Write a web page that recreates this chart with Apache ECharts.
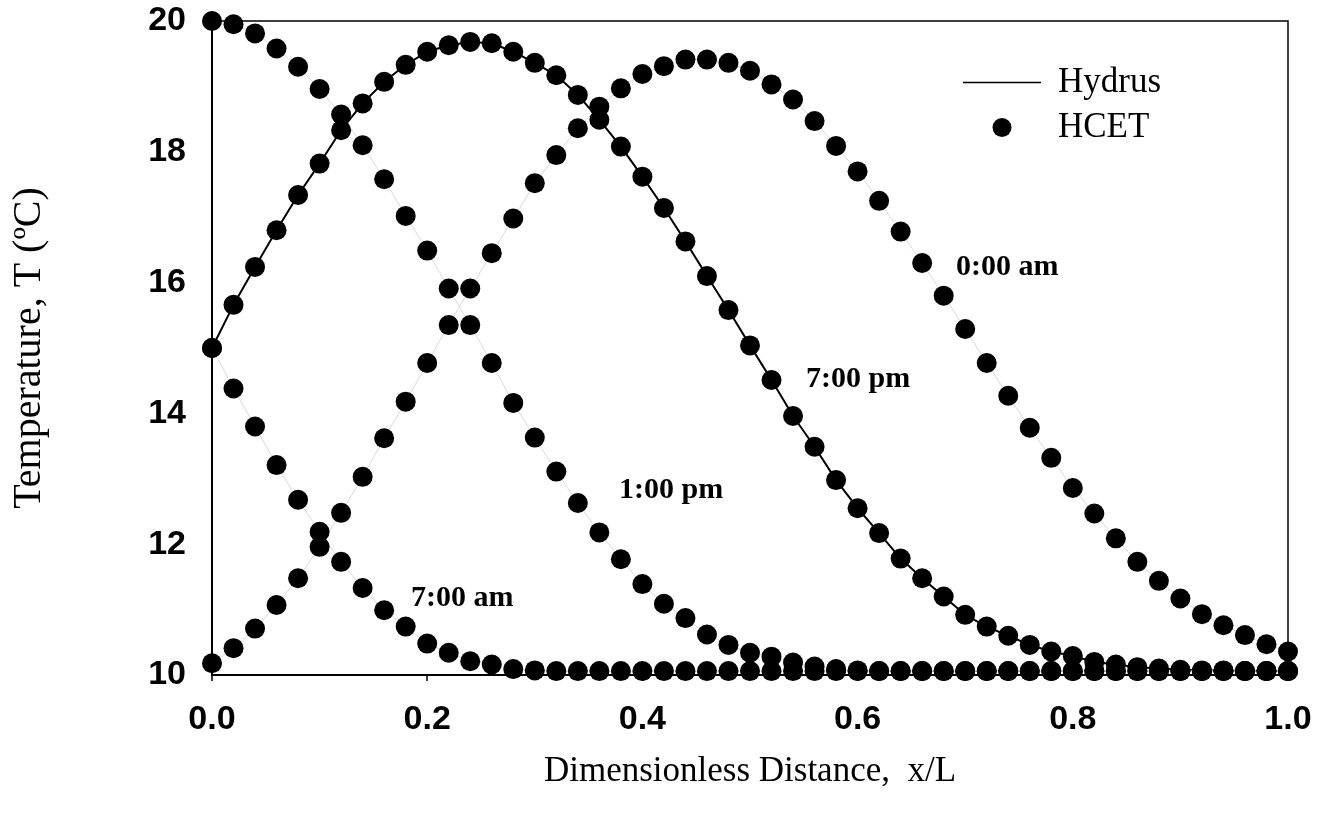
<!DOCTYPE html>
<html>
<head>
<meta charset="utf-8">
<script src="https://cdn.jsdelivr.net/npm/echarts@6/dist/echarts.min.js"></script>
<style>
html,body{margin:0;padding:0;background:#fff;}
#chart{width:1322px;height:820px;}
</style>
</head>
<body>
<div id="chart"></div>
<script>
// Dimensionless distance x/L (sample grid)
const xs = [0.00,0.02,0.04,0.06,0.08,0.10,0.12,0.14,0.16,0.18,0.20,0.22,0.24,0.26,0.28,0.30,0.32,0.34,0.36,0.38,0.40,0.42,0.44,0.46,0.48,0.50,0.52,0.54,0.56,0.58,0.60,0.62,0.64,0.66,0.68,0.70,0.72,0.74,0.76,0.78,0.80,0.82,0.84,0.86,0.88,0.90,0.92,0.94,0.96,0.98,1.00];

// Temperature profiles (°C)
const t0am = [10.18,10.41,10.71,11.07,11.48,11.96,12.48,13.03,13.62,14.18,14.77,15.35,15.91,16.45,16.98,17.52,17.95,18.36,18.69,18.97,19.19,19.31,19.41,19.41,19.36,19.24,19.03,18.80,18.47,18.09,17.70,17.25,16.78,16.30,15.80,15.29,14.77,14.27,13.78,13.32,12.86,12.47,12.09,11.73,11.44,11.17,10.93,10.76,10.61,10.47,10.36];
const t7am = [15.00,14.38,13.80,13.21,12.68,12.19,11.73,11.33,10.99,10.74,10.48,10.34,10.21,10.16,10.09,10.07,10.06,10.06,10.06,10.06,10.06,10.06,10.06,10.06,10.06,10.06,10.06,10.06,10.06,10.06,10.06,10.06,10.06,10.06,10.06,10.06,10.06,10.06,10.06,10.06,10.06,10.06,10.06,10.06,10.06,10.06,10.06,10.06,10.06,10.06,10.06];
const t1pm = [20.00,19.95,19.81,19.58,19.30,18.96,18.57,18.10,17.58,17.02,16.49,15.91,15.35,14.77,14.16,13.63,13.11,12.63,12.18,11.77,11.39,11.09,10.87,10.62,10.46,10.34,10.28,10.19,10.13,10.09,10.07,10.06,10.06,10.06,10.06,10.06,10.06,10.06,10.06,10.06,10.06,10.06,10.06,10.06,10.06,10.06,10.06,10.06,10.06,10.06,10.06];
const t7pm = [15.00,15.66,16.24,16.80,17.34,17.82,18.33,18.74,19.07,19.33,19.53,19.63,19.68,19.66,19.53,19.36,19.17,18.87,18.49,18.08,17.62,17.14,16.63,16.10,15.58,15.04,14.51,13.96,13.49,12.98,12.55,12.17,11.78,11.48,11.20,10.92,10.74,10.60,10.46,10.36,10.29,10.20,10.16,10.12,10.10,10.08,10.07,10.07,10.06,10.06,10.06];

const xTicks = [0.0,0.2,0.4,0.6,0.8,1.0];
const yTicks = [10,12,14,16,18,20];

const curveLabels = ['0:00 am','7:00 pm','1:00 pm','7:00 am'];

function pairs(ys){ return xs.map((x,i)=>[x, ys[i]]); }

const chart = echarts.init(document.getElementById('chart'), null, {renderer:'canvas'});

const serif = 'Liberation Serif, Times New Roman, serif';
const sans = 'Liberation Sans, Arial, sans-serif';

const faint = {color:'#dadada', width:1};
const lineSeries = [
  {ys:t7pm, style:{color:'#000', width:2}},
  {ys:t0am, style:faint},
  {ys:t1pm, style:faint},
  {ys:t7am, style:faint}
].map(s=>({
  name:'Hydrus', type:'line', data:pairs(s.ys), symbol:'none', smooth:false,
  lineStyle:s.style, itemStyle:{color:'#000'}, z:2, silent:true
}));

const scatterSeries = [t0am,t7am,t1pm,t7pm].map(ys=>({
  name:'HCET', type:'scatter', data:pairs(ys), symbol:'circle', symbolSize:20,
  itemStyle:{color:'#000', opacity:1}, z:3, silent:true
}));

const option = {
  backgroundColor:'#fff',
  animation:false,
  grid:{left:212, right:34, top:21, bottom:145, show:true, borderColor:'#000', borderWidth:1.5, backgroundColor:'transparent'},
  xAxis:{
    type:'value', min:0, max:1, interval:0.2,
    axisLine:{show:true, lineStyle:{color:'#000', width:2}},
    axisTick:{show:true, inside:false, length:6, lineStyle:{color:'#000', width:1.5}},
    splitLine:{show:false},
    axisLabel:{margin:28, color:'#000', fontFamily:sans, fontWeight:'bold', fontSize:34,
      formatter:v=>{ const t = xTicks.find(k=>Math.abs(k-v)<1e-9); return (t===undefined?v:t).toFixed(1); }},
    name:'Dimensionless Distance,  x/L', nameLocation:'middle', nameGap:79,
    nameTextStyle:{color:'#000', fontFamily:serif, fontSize:35}
  },
  yAxis:{
    type:'value', min:10, max:20, interval:2,
    axisLine:{show:true, lineStyle:{color:'#000', width:2}},
    axisTick:{show:false},
    splitLine:{show:false},
    axisLabel:{margin:26, color:'#000', fontFamily:sans, fontWeight:'bold', fontSize:34,
      formatter:v=>String(yTicks.find(k=>k===v) ?? v)},
    name:'Temperature, T (ºC)', nameLocation:'middle', nameRotate:90, nameGap:163,
    nameTextStyle:{color:'#000', fontFamily:serif, fontSize:40}
  },
  legend:{
    orient:'vertical', left:958, top:60, itemWidth:78, itemHeight:19, itemGap:10,
    data:[{name:'Hydrus', icon:'path://M0,0H100V2H0Z'}, {name:'HCET', icon:'circle'}],
    itemStyle:{color:'#000'},
    textStyle:{color:'#000', fontFamily:serif, fontSize:35, padding:[0,0,0,12]},
    selectedMode:false
  },
  graphic:[
    {type:'text', left:956, top:252, style:{text:curveLabels[0], fill:'#000', font:'bold 30px '+serif}},
    {type:'text', left:806, top:364, style:{text:curveLabels[1], fill:'#000', font:'bold 30px '+serif}},
    {type:'text', left:619, top:475, style:{text:curveLabels[2], fill:'#000', font:'bold 30px '+serif}},
    {type:'text', left:411, top:583, style:{text:curveLabels[3], fill:'#000', font:'bold 30px '+serif}}
  ],
  series:[...lineSeries, ...scatterSeries]
};
chart.setOption(option);
</script>
</body>
</html>
